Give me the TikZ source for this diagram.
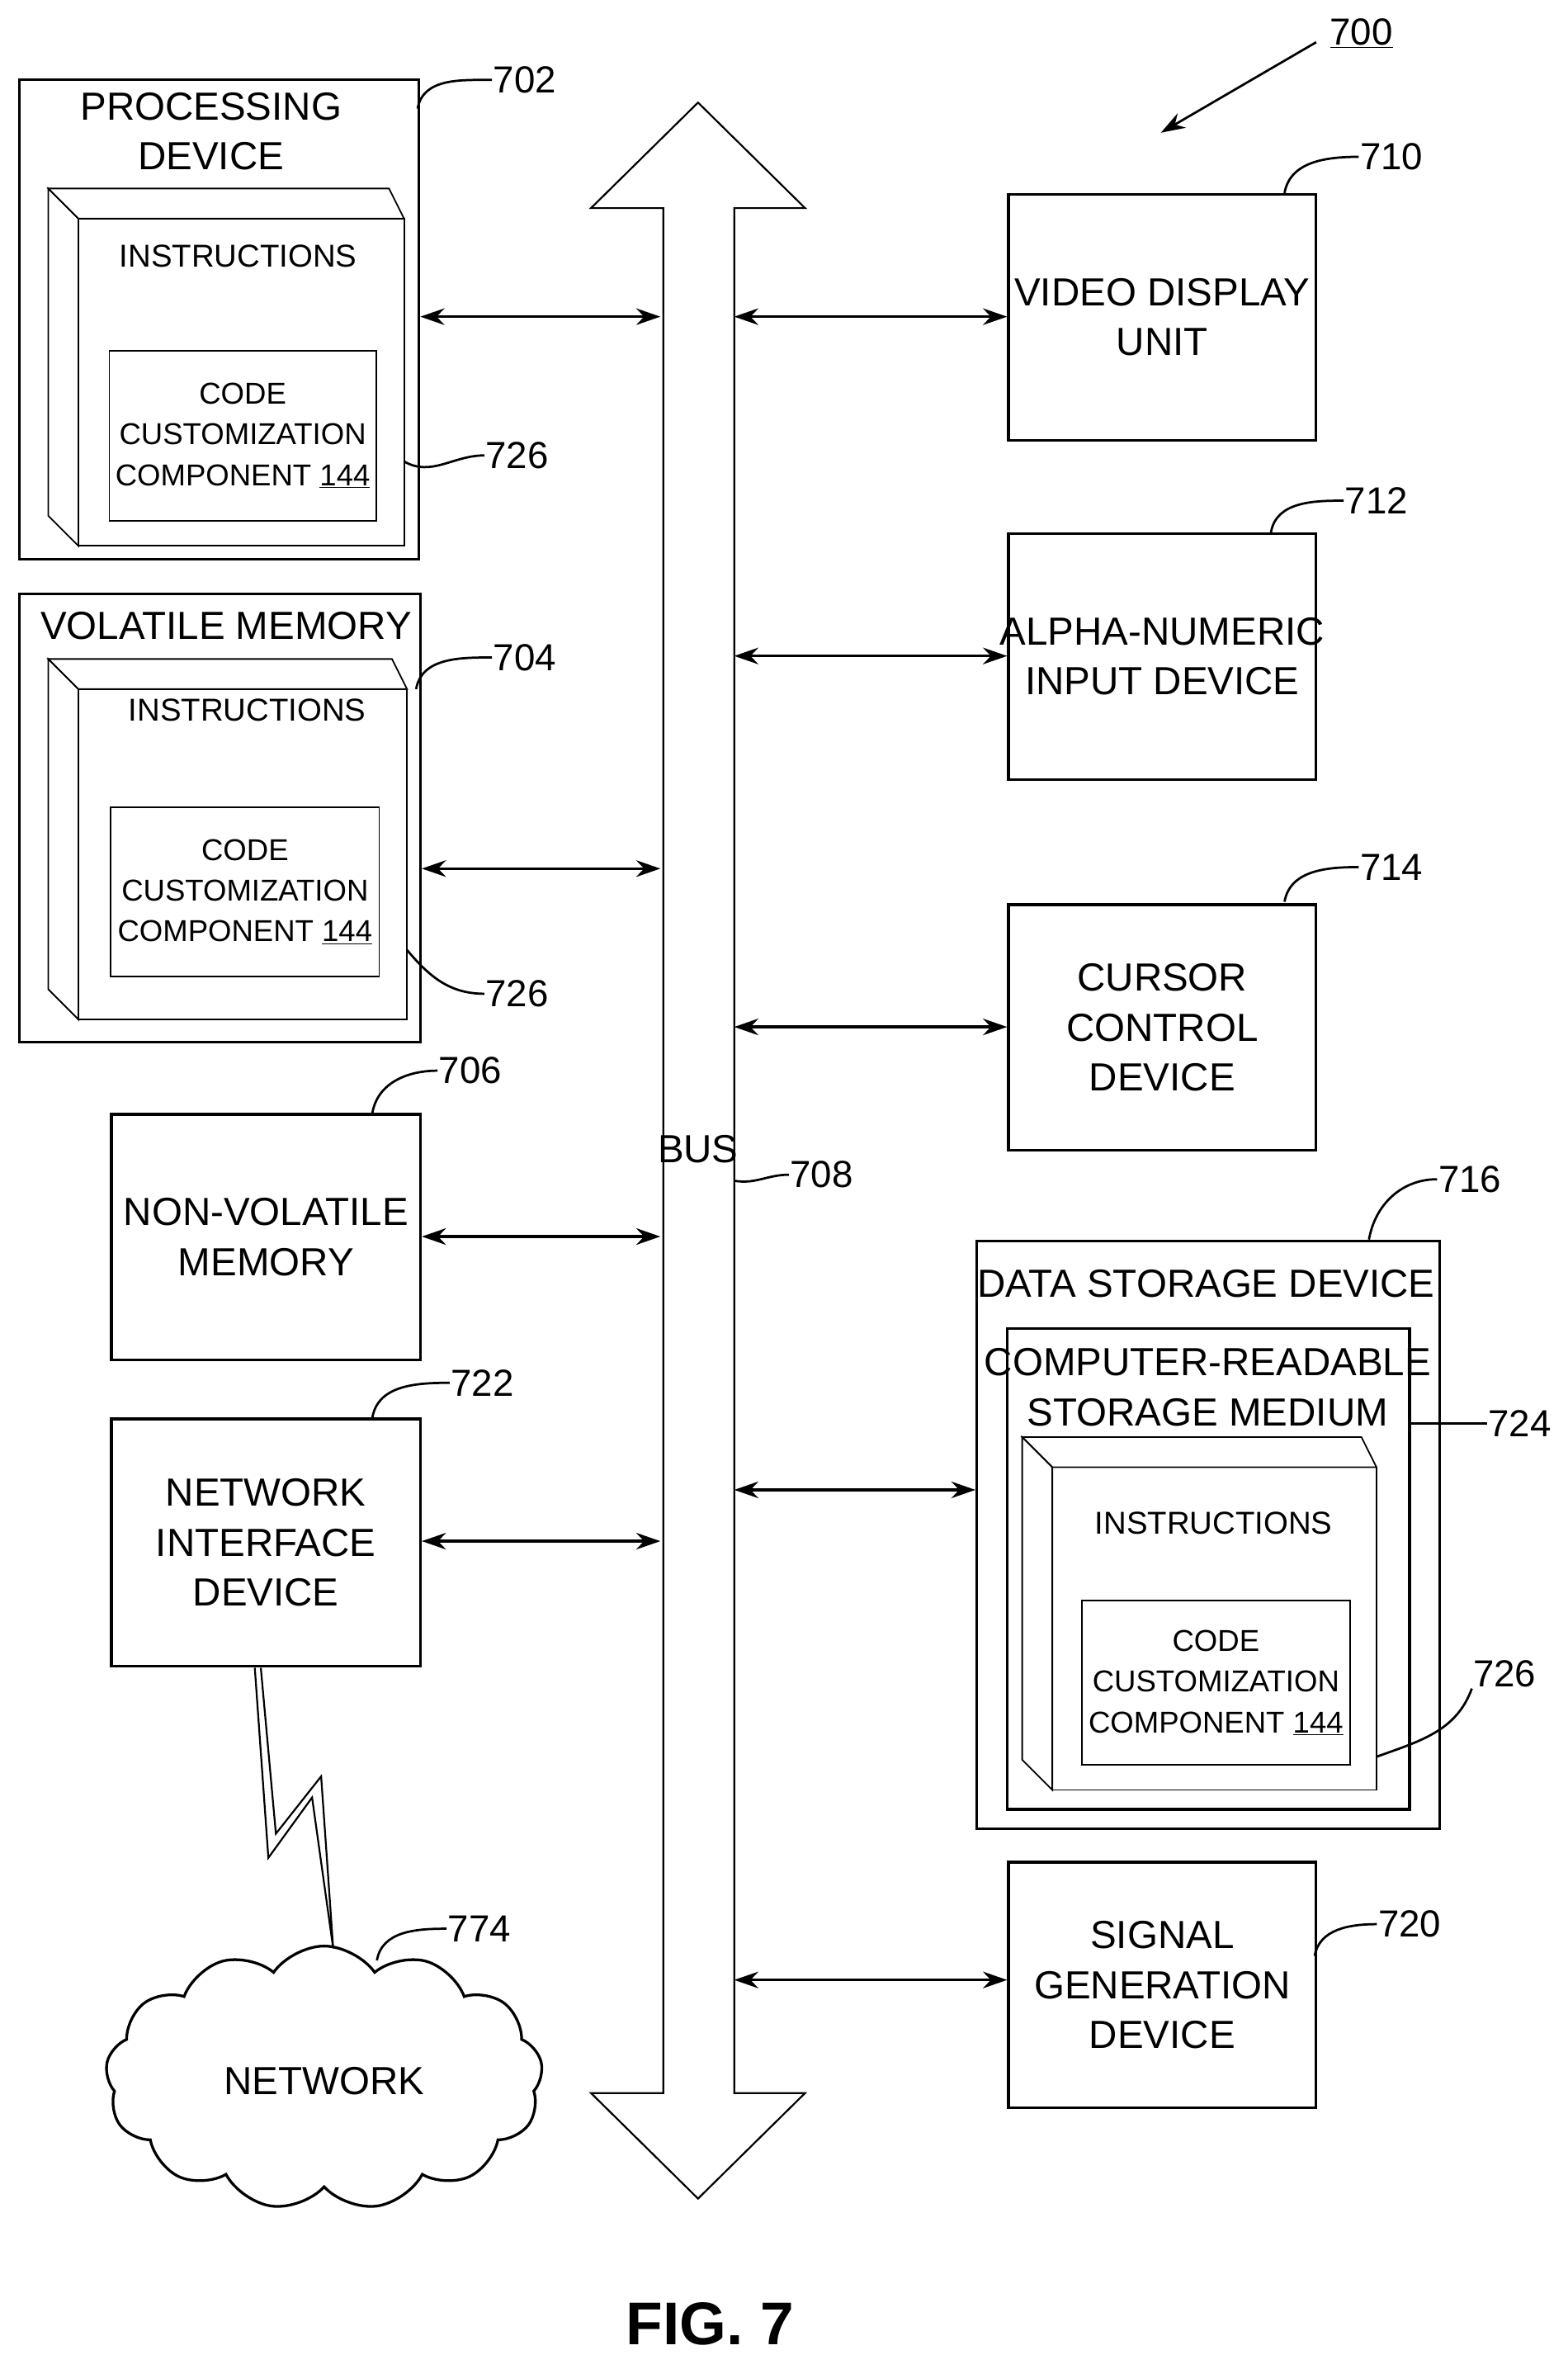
\documentclass[tikz,border=0pt]{standalone}
\usepackage{fontspec}
\setmainfont{Liberation Sans}
\usetikzlibrary{arrows.meta,shapes.symbols}
\begin{document}
\begin{tikzpicture}[x=1pt,y=-1pt,line width=1.8pt,
  big/.style={font=\fontsize{26}{33}\selectfont,align=center,inner sep=0},
  small/.style={font=\fontsize{21}{27}\selectfont,align=center,inner sep=0},
  lab/.style={font=\fontsize{25}{30}\selectfont,inner sep=0},
  box/.style={draw,line width=1.8pt},
  thin/.style={draw,line width=1pt},
  dar/.style={{Stealth[length=16pt,width=11pt]}-{Stealth[length=16pt,width=11pt]},line width=1.8pt},
  lead/.style={line width=1.5pt}]
\useasboundingbox (0,0) rectangle (1040,1571);
\newcommand{\cube}[4]{% x1,y1 (back top-left), x2 (front right), y2 (bottom)
  \draw[thin] (#1,#2) -- (#3-10,#2) -- (#3,#2+20) -- (#1+20,#2+20) -- cycle;
  \draw[thin] (#1,#2) -- (#1+20,#2+20) -- (#1+20,#4) -- (#1,#4-20) -- cycle;
  \draw[thin] (#1+20,#2+20) rectangle (#3,#4);}
% 700
\node[lab] (l700) at (903,22) {\underline{700}};
\coordinate (a700) at (873,28); \coordinate (b700) at (770,88);
\draw[-{Stealth[length=16pt,width=11pt]},line width=1.5pt] (a700) -- (b700);
% bus
\draw[thin,line width=1.2pt] (440,1388) -- (440,138) -- (392,138) -- (463,68) -- (534,138) -- (487,138) -- (487,1388) -- (534,1388) -- (463,1458) -- (392,1388) -- cycle;
\node[big] (bus) at (463,762) {BUS};
\node[lab] (l708) at (545,779) {708};
\draw[lead] (487,783) to[out=-10,in=180] (l708.west);
% processing device
\node[box,minimum width=265pt,minimum height=318pt,anchor=north west] (pd) at (12,52) {};
\node[big] (pdt) at (140,87) {PROCESSING\\DEVICE};
\cube{32}{125}{268}{362}
\node[small] (i1) at (158,170) {INSTRUCTIONS};
\node[thin,minimum width=177pt,minimum height=113pt,anchor=north west] (c1) at (72,232) {};
\node[small,font=\fontsize{20}{27}\selectfont] at (c1) {CODE\\CUSTOMIZATION\\COMPONENT \underline{144}};
\node[lab] (l702) at (348,53) {702};
\draw[lead] (277,72) to[out=80,in=180] (l702.west);
\node[lab] (l726a) at (343,302) {726};
\draw[lead] (268,306) to[out=-30,in=180] (l726a.west);
\coordinate (b1) at (438,210);
\draw[dar] (pd.east |- b1) -- (b1);
% volatile memory
\node[box,minimum width=266pt,minimum height=297pt,anchor=north west] (vm) at (12,393) {};
\node[big] at (150,415) {VOLATILE MEMORY};
\cube{32}{437}{270}{676}
\node[small] at (164,471) {INSTRUCTIONS};
\node[thin,minimum width=178pt,minimum height=112pt,anchor=north west] (c2) at (73,535) {};
\node[small,font=\fontsize{20}{27}\selectfont] at (c2) {CODE\\CUSTOMIZATION\\COMPONENT \underline{144}};
\node[lab] (l704) at (348,436) {704};
\draw[lead] (276,457) to[out=80,in=180] (l704.west);
\node[lab] (l726b) at (343,659) {726};
\draw[lead] (270,630) to[out=-50,in=180] (l726b.west);
\coordinate (b2) at (438,576);
\draw[dar] (vm.east |- b2) -- (b2);
% non-volatile
\node[box,minimum width=205pt,minimum height=163pt,anchor=north west] (nv) at (73,738) {};
\node[big] at (nv) {NON-VOLATILE\\MEMORY};
\node[lab] (l706) at (312,710) {706};
\draw[lead] (247,738) to[out=80,in=180] (l706.west);
\coordinate (b3) at (438,820);
\draw[dar] (nv.east |- b3) -- (b3);
% network interface
\node[box,minimum width=205pt,minimum height=164pt,anchor=north west] (ni) at (73,940) {};
\node[big] at (ni) {NETWORK\\INTERFACE\\DEVICE};
\node[lab] (l722) at (320,917) {722};
\draw[lead] (247,940) to[out=80,in=180] (l722.west);
\coordinate (b4) at (438,1022);
\draw[dar] (ni.east |- b4) -- (b4);
% lightning
\draw[thin,line width=1.2pt] (169,1106) -- (178,1232) -- (207,1192) -- (221,1292) -- (213,1178) -- (183,1216) -- (173,1106);
% cloud
\node[cloud,draw,cloud puffs=13,cloud puff arc=110,aspect=1.6,minimum width=290pt,minimum height=175pt,line width=1.8pt] (net) at (215,1378) {};
\node[big] at (215,1380) {NETWORK};
\node[lab] (l774) at (318,1279) {774};
\draw[lead] (250,1300) to[out=80,in=180] (l774.west);
% right column
\node[box,minimum width=204pt,minimum height=163pt,anchor=north west] (vd) at (668,128) {};
\node[big] at (vd) {VIDEO DISPLAY\\UNIT};
\node[lab] (l710) at (923,104) {710};
\draw[lead] (852,128) to[out=80,in=180] (l710.west);
\coordinate (r1) at (487,210);
\draw[dar] (r1) -- (vd.west |- r1);
\node[box,minimum width=204pt,minimum height=163pt,anchor=north west] (an) at (668,353) {};
\node[big] at (an) {ALPHA-NUMERIC\\INPUT DEVICE};
\node[lab] (l712) at (913,332) {712};
\draw[lead] (843,353) to[out=80,in=180] (l712.west);
\coordinate (r2) at (487,435);
\draw[dar] (r2) -- (an.west |- r2);
\node[box,minimum width=204pt,minimum height=163pt,anchor=north west] (cc) at (668,599) {};
\node[big] at (cc) {CURSOR\\CONTROL\\DEVICE};
\node[lab] (l714) at (923,575) {714};
\draw[lead] (852,598) to[out=80,in=180] (l714.west);
\coordinate (r3) at (487,681);
\draw[dar] (r3) -- (cc.west |- r3);
% data storage
\node[box,minimum width=307pt,minimum height=390pt,anchor=north west] (ds) at (647,822) {};
\node[big] at (800,851) {DATA STORAGE DEVICE};
\node[box,minimum width=267pt,minimum height=319pt,anchor=north west] (cr) at (667,880) {};
\node[big] at (801,920) {COMPUTER-READABLE\\STORAGE MEDIUM};
\cube{678}{953}{913}{1187}
\node[small] at (805,1010) {INSTRUCTIONS};
\node[thin,minimum width=178pt,minimum height=109pt,anchor=north west] (c3) at (717,1061) {};
\node[small,font=\fontsize{20}{27}\selectfont] at (c3) {CODE\\CUSTOMIZATION\\COMPONENT \underline{144}};
\node[lab] (l716) at (975,782) {716};
\draw[lead] (908,822) to[out=80,in=180] (l716.west);
\node[lab] (l724) at (1008,944) {724};
\draw[lead] (934,944) to[out=0,in=180] (l724.west);
\node[lab] (l726c) at (998,1110) {726};
\draw[lead] (913,1165) to[out=20,in=250] (l726c.south west);
\coordinate (r4) at (487,988);
\draw[dar] (r4) -- (ds.west |- r4);
\node[box,minimum width=204pt,minimum height=163pt,anchor=north west] (sg) at (668,1234) {};
\node[big] at (sg) {SIGNAL\\GENERATION\\DEVICE};
\node[lab] (l720) at (935,1276) {720};
\draw[lead] (872,1297) to[out=80,in=180] (l720.west);
\coordinate (r5) at (487,1313);
\draw[dar] (r5) -- (sg.west |- r5);
\node[font=\fontsize{40}{46}\selectfont\bfseries,inner sep=0] (fig) at (471,1541) {FIG. 7};
\end{tikzpicture}
\end{document}
